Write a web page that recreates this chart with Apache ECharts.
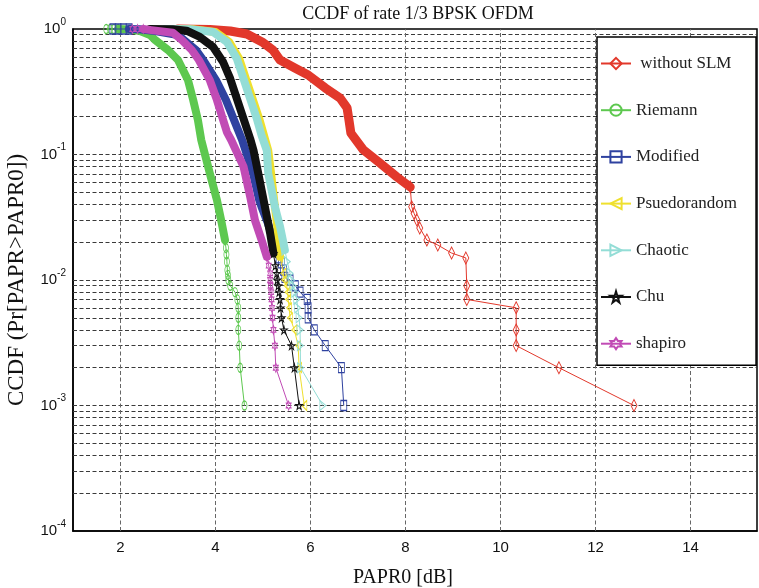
<!DOCTYPE html>
<html>
<head>
<meta charset="utf-8">
<script src="https://cdn.jsdelivr.net/npm/echarts@6/dist/echarts.min.js"></script>
<style>
  html, body { margin: 0; padding: 0; background: #fff; }
  #chart { width: 759px; height: 588px; }
</style>
</head>
<body>
<div id="chart"></div>
<script>
'use strict';

// legend names, in the order of the original plot
var names = [' without SLM', 'Riemann', 'Modified', 'Psuedorandom', 'Chaotic', 'Chu', 'shapiro'];

// first few separate markers at CCDF = 1 (left end of the curves)
var greenHead = [[1.7,1],[1.78,1],[1.86,1],[1.95,1]];
var blueHead = [[1.84,1],[1.95,1],[2.06,1],[2.18,1]];
var magentaHead = [[2.25,1],[2.36,1],[2.48,1]];

// dense part of each curve (drawn as a thick band) : [PAPR0 dB, CCDF]
var redBand = [[3.21,1],[3.88,0.99],[4.31,0.964],[4.66,0.912],[4.98,0.788],[5.21,0.68],[5.36,0.566],[5.67,0.489],[5.95,0.43],[6.31,0.339],[6.62,0.282],[6.77,0.235],[6.81,0.188],[6.85,0.148],[7.11,0.109],[7.46,0.0856],[7.82,0.0662],[8.1,0.0551]];
var greenBand = [[1.95,1],[2.2,0.99],[2.41,0.964],[2.62,0.896],[2.73,0.817],[3.0,0.68],[3.21,0.566],[3.42,0.392],[3.53,0.272],[3.63,0.188],[3.7,0.1305],[3.88,0.0708],[4.03,0.0434],[4.13,0.0285],[4.2,0.0208]];
var blueBand = [[2.18,1],[2.4,0.995],[2.73,0.964],[3.21,0.896],[3.59,0.68],[3.74,0.566],[4.01,0.392],[4.22,0.272],[4.39,0.188],[4.56,0.1305],[4.79,0.0708],[4.92,0.0434],[4.97,0.0382],[5.1,0.0285],[5.22,0.0208],[5.29,0.0173]];
var yellowBand = [[3.04,1],[3.52,0.995],[4.0,0.946],[4.29,0.788],[4.5,0.58],[4.64,0.402],[4.78,0.278],[4.92,0.193],[5.02,0.142],[5.11,0.108],[5.17,0.0708],[5.25,0.0384],[5.3,0.0266],[5.36,0.0153]];
var cyanBand = [[2.94,1],[3.46,0.995],[3.95,0.946],[4.24,0.788],[4.45,0.58],[4.59,0.402],[4.73,0.278],[4.87,0.193],[4.97,0.142],[5.08,0.108],[5.11,0.0708],[5.25,0.0384],[5.36,0.0266],[5.46,0.0173]];
var blackBand = [[2.62,1],[3.1,0.995],[3.39,0.97],[3.67,0.864],[3.95,0.719],[4.16,0.546],[4.31,0.402],[4.45,0.278],[4.59,0.193],[4.73,0.1336],[4.8,0.108],[4.9,0.0708],[5.04,0.0384],[5.15,0.0236],[5.22,0.0163]];
var magentaBand = [[2.48,1],[2.65,0.98],[3.1,0.935],[3.29,0.817],[3.5,0.68],[3.65,0.566],[3.88,0.392],[4.03,0.272],[4.13,0.205],[4.24,0.151],[4.33,0.1305],[4.59,0.08],[4.73,0.0461],[4.83,0.03],[4.97,0.0208],[5.08,0.0153]];

// sparse tails, drawn with markers
var redTail = [[8.1,0.0551],[8.13,0.0384],[8.18,0.034],[8.24,0.03],[8.3,0.026],[8.45,0.0208],[8.68,0.019],[8.97,0.0164],[9.27,0.015],[9.29,0.009],[9.29,0.007],[10.33,0.006],[10.33,0.004],[10.33,0.003],[11.23,0.002],[12.81,0.001]];
var greenTail = [[4.2,0.0208],[4.22,0.018],[4.23,0.016],[4.24,0.014],[4.25,0.012],[4.26,0.011],[4.27,0.01],[4.31,0.009],[4.41,0.008],[4.46,0.007],[4.48,0.006],[4.48,0.005],[4.48,0.004],[4.5,0.003],[4.52,0.002],[4.61,0.001]];
var blueTail = [[5.29,0.0173],[5.34,0.015],[5.39,0.0137],[5.43,0.012],[5.46,0.0105],[5.57,0.01],[5.68,0.009],[5.78,0.008],[5.93,0.007],[5.95,0.006],[5.95,0.005],[6.08,0.004],[6.31,0.003],[6.65,0.002],[6.7,0.001]];
var yellowTail = [[5.36,0.0153],[5.43,0.0113],[5.45,0.01],[5.5,0.009],[5.52,0.008],[5.53,0.007],[5.55,0.006],[5.57,0.005],[5.66,0.004],[5.74,0.003],[5.76,0.002],[5.87,0.001]];
var cyanTail = [[5.46,0.0173],[5.51,0.014],[5.57,0.0113],[5.6,0.01],[5.63,0.009],[5.67,0.008],[5.71,0.007],[5.73,0.006],[5.76,0.005],[5.78,0.004],[5.785,0.003],[5.79,0.002],[6.26,0.001]];
var blackTail = [[5.22,0.0163],[5.26,0.013],[5.29,0.0113],[5.3,0.01],[5.32,0.009],[5.34,0.008],[5.36,0.007],[5.37,0.006],[5.39,0.005],[5.44,0.004],[5.6,0.003],[5.66,0.002],[5.76,0.001]];
var magentaTail = [[5.08,0.0153],[5.12,0.013],[5.15,0.0113],[5.15,0.01],[5.16,0.009],[5.17,0.008],[5.18,0.007],[5.19,0.006],[5.2,0.005],[5.22,0.004],[5.25,0.003],[5.27,0.002],[5.54,0.001]];

// axis ticks / grid
var xTicks = [2, 4, 6, 8, 10, 12, 14];
var yDecades = [-4, -3, -2, -1];
var yMinorMult = [2, 3, 4, 5, 6, 7, 8, 9];

var colors = ['#e2382b', '#5dc84f', '#2f42a0', '#efe02e', '#93ddd6', '#111111', '#c14bb5'];
var heads = [null, greenHead, blueHead, null, null, null, magentaHead];
var bands = [redBand, greenBand, blueBand, yellowBand, cyanBand, blackBand, magentaBand];
var tails = [redTail, greenTail, blueTail, yellowTail, cyanTail, blackTail, magentaTail];
var bandWidth = [9, 8, 8, 8, 8, 8, 8];

var symbols = [
   'diamond',
   'path://M50,0A50,50,0,1,1,50,100A50,50,0,1,1,50,0Z',
   'rect',
   'path://M0,50L100,0L100,100Z',
   'path://M100,50L0,0L0,100Z',
   'path://M50,0L61,35L98,35L68,56L79,90L50,69L21,90L32,56L2,35L39,35Z',
   'path://M50,0L64.5,25L93.3,25L79,50L93.3,75L64.5,75L50,100L35.5,75L6.7,75L21,50L6.7,25L35.5,25Z'
];
var symSizes = [[6,12], [5,9], [6,10], [5,10], [6,10], [7,8], [5,9]];

var serif = '"Liberation Serif", "Times New Roman", serif';
var sans = '"Liberation Sans", Arial, sans-serif';

var chart = echarts.init(document.getElementById('chart'));

// grid lines through markLine (log minor lines at 2..9 per decade)
var gridLines = [];
yDecades.forEach(function (d) {
   if (d > -4) gridLines.push({ yAxis: Math.pow(10, d) });
   yMinorMult.forEach(function (m) {
      gridLines.push({ yAxis: m * Math.pow(10, d) });
   });
});
var vLines = xTicks.map(function (v) { return { xAxis: v }; });

function gridSeries (id, lines, color) {
   return {
      name: id,
      type: 'line',
      data: [],
      z: 1,
      silent: true,
      markLine: {
         z: 1,
         silent: true,
         precision: 12,
         symbol: 'none',
         label: { show: false },
         animation: false,
         lineStyle: { color: color, width: 1, type: [4, 2.5] },
         data: lines
      }
   };
}

var series = [gridSeries('grid', gridLines, '#3a3a3a'), gridSeries('vgrid', vLines, '#666')];

function markerSeries (name, data, i) {
   return {
      name: name,
      type: 'line',
      data: data,
      symbol: symbols[i],
      symbolSize: symSizes[i],
      showAllSymbol: true,
      clip: false,
      z: 3 + i,
      color: colors[i],
      lineStyle: { color: colors[i], width: 1 },
      itemStyle: { color: 'rgba(255,255,255,0)', borderColor: colors[i], borderWidth: 1 }
   };
}

names.forEach(function (n, i) {
   if (heads[i]) series.push(markerSeries(n + '-head', heads[i], i));
   series.push({
      name: n + '-band',
      type: 'line',
      data: bands[i],
      showSymbol: false,
      clip: false,
      z: 3 + i,
      lineStyle: { color: colors[i], width: bandWidth[i], cap: 'round', join: 'round' }
   });
   series.push(markerSeries(n, tails[i], i));
});

var option = {
   animation: false,
   backgroundColor: '#fff',
   title: {
      text: 'CCDF of rate 1/3 BPSK OFDM',
      left: 413,
      top: 0,
      textAlign: 'center',
      textStyle: { fontFamily: serif, fontSize: 18, fontWeight: 'normal', color: '#111' }
   },
   legend: {
      data: names,
      orient: 'vertical',
      left: 597,
      top: 37,
      z: 20,
      padding: [18, 19, 13, 3],
      itemWidth: 30,
      itemHeight: 14,
      itemGap: 29.7,
      backgroundColor: '#fff',
      borderColor: '#000',
      borderWidth: 1.5,
      textStyle: { fontFamily: serif, fontSize: 17, color: '#222' }
   },
   grid: {
      left: 73,
      right: 2,
      top: 29,
      bottom: 57,
      outerBoundsMode: 'none',
      containLabel: false,
      show: true,
      backgroundColor: '#fff',
      borderColor: '#000',
      borderWidth: 1.5
   },
   xAxis: {
      type: 'value',
      min: 1,
      max: 15.4,
      interval: 1,
      name: 'PAPR0 [dB]',
      nameLocation: 'middle',
      nameGap: 37,
      nameTextStyle: { fontFamily: serif, fontSize: 20, color: '#111', padding: [0, 24, 0, 0] },
      axisLine: { lineStyle: { color: '#000', width: 1.5 } },
      axisTick: { show: false },
      splitLine: { show: false },
      axisLabel: {
         margin: 9,
         fontFamily: sans,
         fontSize: 15,
         color: '#111',
         formatter: function (v) { return (v % 2 === 0) ? String(v) : ''; }
      }
   },
   yAxis: {
      type: 'log',
      logBase: 10,
      min: 0.0001,
      max: 1,
      name: 'CCDF (Pr[PAPR>PAPR0])',
      nameLocation: 'middle',
      nameGap: 45,
      nameTextStyle: { fontFamily: serif, fontSize: 23, color: '#111' },
      axisLine: { lineStyle: { color: '#000', width: 1.5 } },
      axisTick: { show: false },
      splitLine: { show: false },
      minorTick: { show: false },
      axisLabel: {
         margin: 7,
         formatter: function (v) {
            var e = Math.round(Math.log10(v));
            return '{b|10}{s|' + e + '}';
         },
         rich: {
            b: { fontFamily: sans, fontSize: 15, color: '#111' },
            s: { fontFamily: sans, fontSize: 10, color: '#111', padding: [0, 0, 14, 0] }
         }
      }
   },
   series: series
};

chart.setOption(option);
</script>
</body>
</html>
